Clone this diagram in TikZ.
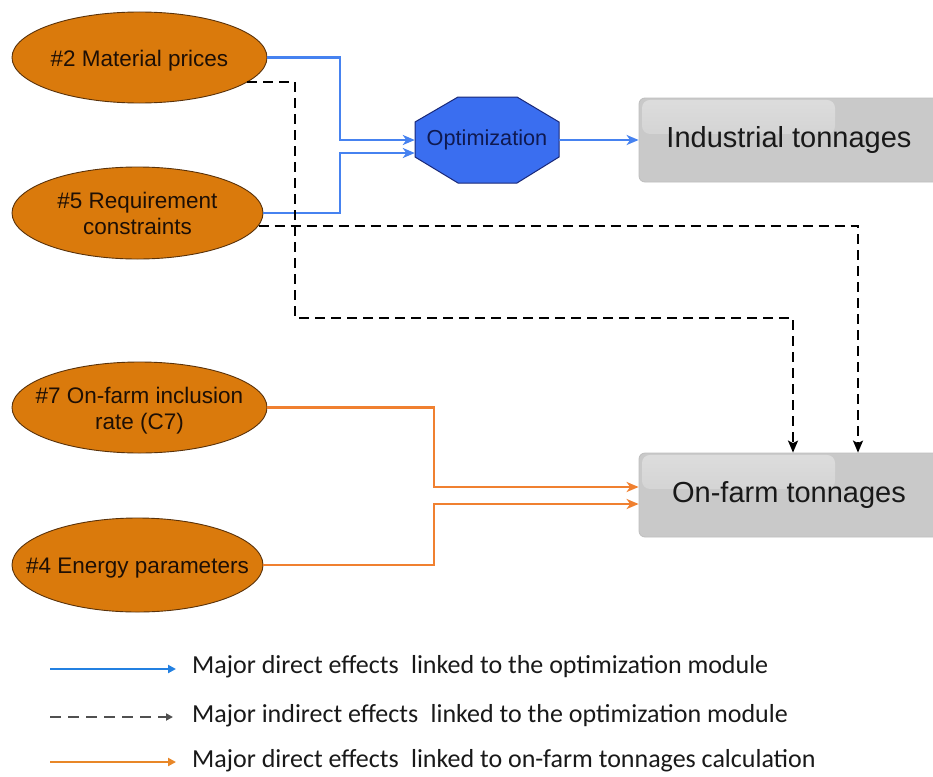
\documentclass[tikz,border=0pt]{standalone}
\usepackage{fontspec}
\setmainfont{Liberation Sans}
\newfontfamily\legendfont{Carlito}
\usetikzlibrary{arrows.meta,shapes.geometric,calc,fadings}

\definecolor{factorfill}{RGB}{218,122,12}
\definecolor{factorline}{RGB}{90,50,10}
\definecolor{factortext}{RGB}{30,15,5}
\definecolor{optfill}{RGB}{58,110,240}
\definecolor{optline}{RGB}{25,40,120}
\definecolor{opttext}{RGB}{15,25,80}
\definecolor{bluelink}{RGB}{70,130,240}
\definecolor{orangelink}{RGB}{240,128,48}
\definecolor{boxgray}{RGB}{201,201,201}
\definecolor{boxedge}{RGB}{190,190,190}
\definecolor{legblue}{RGB}{35,128,225}
\definecolor{legorange}{RGB}{232,135,40}
\definecolor{leggray}{RGB}{80,80,80}

% one centred line or a centred stack that does not change the ellipse size
\newcommand{\factortext}[1]{\makebox[0pt]{\raisebox{-8.6pt}[0pt][0pt]{\begin{tabular}{@{}c@{}}#1\end{tabular}}}}

\begin{document}
\begin{tikzpicture}[x=1pt,y=-1pt,
  factor/.style={ellipse, draw=factorline, line width=0.9pt, fill=factorfill,
    text=factortext, inner sep=0pt,
    font=\fontsize{22.5}{26}\selectfont},
  optlabel/.style={rectangle, minimum width=144pt, minimum height=86pt,
    inner sep=0pt, text=opttext, font=\fontsize{21.7}{25}\selectfont},
  outbox/.style={rectangle, rounded corners=6pt, minimum width=300pt,
    minimum height=84pt, fill=boxgray, draw=boxedge, line width=0.8pt,
    font=\fontsize{29}{33}\selectfont, text=black!90,
    path picture={\fill[white, fill opacity=0.38, rounded corners=8pt, path fading=south]
      ($(path picture bounding box.north west)+(3,2)$) rectangle
      ($(path picture bounding box.north west)+(196,36)$);}},
  bluearrow/.style={draw=bluelink, line width=2.4pt,
    -{Stealth[length=12pt,width=10pt,inset=3.5pt]}},
  orangearrow/.style={draw=orangelink, line width=2.4pt,
    -{Stealth[length=12pt,width=10pt,inset=3.5pt]}},
  indirect/.style={draw=black, line width=1.9pt, dash pattern=on 10pt off 6pt,
    -{Stealth[length=12pt,width=10pt,inset=2.5pt]}},
  legtext/.style={anchor=west, inner sep=0pt, font=\legendfont\fontsize{26}{29}\selectfont, text=black!90},
]
\clip (0,0) rectangle (933,776);
\fill[white] (0,0) rectangle (933,776);

% input factors
\node[factor, minimum width=255pt, minimum height=91pt] (m2) at (139.5,57.5) {\factortext{\#2 Material prices}};
\node[factor, minimum width=251pt, minimum height=92pt] (m5) at (137.5,213) {\factortext{\#5 Requirement\\constraints}};
\node[factor, minimum width=255pt, minimum height=91pt] (m7) at (139.5,407.5) {\factortext{\#7 On-farm inclusion\\rate (C7)}};
\node[factor, minimum width=251pt, minimum height=94pt] (m4) at (137.5,565) {\factortext{\#4 Energy parameters}};

% optimization module (stretched octagon)
\coordinate (oc) at (487,140);
\filldraw[fill=optfill, draw=optline, line width=1pt]
  ($(oc)+(-72,-18)$) -- ($(oc)+(-29,-43)$) -- ($(oc)+(30,-43)$) -- ($(oc)+(72,-18)$) --
  ($(oc)+(72,17)$) -- ($(oc)+(30,43)$) -- ($(oc)+(-29,43)$) -- ($(oc)+(-72,17)$) -- cycle;
\node[optlabel] (opt) at (oc) {Optimization};

% outputs
\node[outbox] (ind) at (789,140) {Industrial tonnages};
\node[outbox] (farm) at (789,495) {On-farm tonnages};

% routing columns
\coordinate (bx) at (340,0);
\coordinate (ox) at (434,0);
\coordinate (d1) at (295,318);

% direct effects through the optimization module
\draw[bluearrow] (m2.east) -| (bx |- opt.west) -- (opt.west);
\draw[bluearrow] (m5.east) -| ($(bx |- opt.west)+(0,13)$) -- ($(opt.west)+(0,13)$);
\draw[bluearrow] (opt.east) -- (ind.west);

% indirect effects
\draw[indirect] (m2.-13) -| (d1) -| ($(farm.north)+(4,0)$);
\draw[indirect] (m5.-6.5) -| ($(farm.north)+(69,0)$);

% direct effects on on-farm tonnages
\draw[orangearrow] (m7.east) -| ($(ox |- farm.west)+(0,-8)$) -- ($(farm.west)+(0,-8)$);
\draw[orangearrow] (m4.east) -| ($(ox |- farm.west)+(0,9)$) -- ($(farm.west)+(0,9)$);

% legend
\coordinate (l1a) at (50,669);  \coordinate (l1b) at (176,669);
\coordinate (l2a) at (50,717);  \coordinate (l2b) at (176,717);
\coordinate (l3a) at (50,762);  \coordinate (l3b) at (176,762);
\draw[draw=legblue, line width=2.6pt, -{Triangle[length=8pt,width=8pt]}] (l1a) -- (l1b);
\draw[draw=leggray, line width=2.6pt, dash pattern=on 11pt off 7pt, -{Triangle[length=7pt,width=7pt,sep=3pt]}] (l2a) -- (l2b);
\draw[draw=legorange, line width=2.6pt, -{Triangle[length=8pt,width=8pt]}] (l3a) -- (l3b);
\node[legtext] (t1) at (192,667) {Major direct effects\hspace{0.25em} linked to the optimization module};
\node[legtext] (t2) at (192,716) {Major indirect effects\hspace{0.25em} linked to the optimization module};
\node[legtext] (t3) at (192,761) {Major direct effects\hspace{0.25em} linked to on-farm tonnages calculation};
\end{tikzpicture}
\end{document}
